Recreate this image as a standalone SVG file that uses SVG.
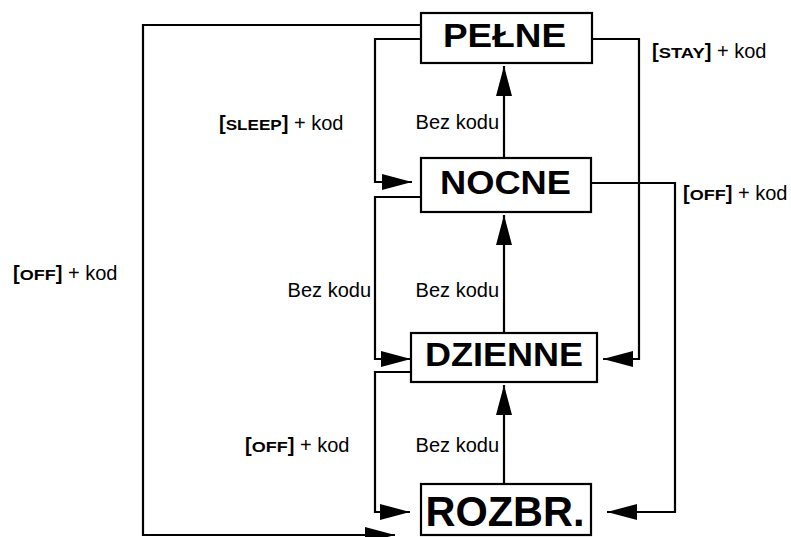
<svg xmlns="http://www.w3.org/2000/svg" width="791" height="537" viewBox="0 0 791 537">
<style>
.box{fill:#fff;stroke:#000;stroke-width:2.2}
.st{font-family:"Liberation Sans",Arial,sans-serif;font-weight:bold;fill:#000;text-anchor:middle}
.lbl{font-family:"Liberation Sans",Arial,sans-serif;font-size:20px;fill:#000}
.b{font-weight:bold}
.sc{font-weight:bold;font-size:15px}
.c{fill:none;stroke:#000;stroke-width:2.2;marker-end:url(#ah)}
</style>
<defs>
<marker id="ah" markerUnits="userSpaceOnUse" markerWidth="30" markerHeight="16" viewBox="0 0 30 16" refX="30" refY="8" orient="auto" overflow="visible">
<path d="M0,0 L30,8 L0,16 Z" fill="#000"/>
</marker>
</defs>
<g id="connectors">
<path class="c" d="M421,25 H143 V535 H395"/>
<path class="c" d="M421,39 H375 V182 H412"/>
<path class="c" d="M421,197 H375 V359 H411"/>
<path class="c" d="M420,372 H375 V512 H410"/>
<path class="c" d="M592,39 H639 V359 H603"/>
<path class="c" d="M591,183 H675 V512 H607"/>
<path class="c" d="M504,158 V66"/>
<path class="c" d="M504,333 V215"/>
<path class="c" d="M504,484 V385"/>
</g>
<g id="pelne">
<rect class="box" x="421" y="13" width="171" height="50"/>
<text class="st" x="504.5" y="47" font-size="34" textLength="123" lengthAdjust="spacingAndGlyphs">PEŁNE</text>
</g>
<g id="nocne">
<rect class="box" x="421" y="158" width="170" height="54"/>
<text class="st" x="505.5" y="194" font-size="34" textLength="131" lengthAdjust="spacingAndGlyphs">NOCNE</text>
</g>
<g id="dzienne">
<rect class="box" x="411" y="333" width="186" height="49"/>
<text class="st" x="504" y="366" font-size="34" textLength="158" lengthAdjust="spacingAndGlyphs">DZIENNE</text>
</g>
<g id="rozbr">
<rect class="box" x="421" y="484" width="170" height="51"/>
<text class="st" x="505" y="526" font-size="43" textLength="159" lengthAdjust="spacingAndGlyphs">ROZBR.</text>
</g>
<g id="labels">
<text class="lbl" x="219" y="130"><tspan class="b">[</tspan><tspan class="sc" textLength="56" lengthAdjust="spacingAndGlyphs">SLEEP</tspan><tspan class="b">]</tspan> + kod</text>
<text class="lbl" x="499" y="129" text-anchor="end">Bez kodu</text>
<text class="lbl" x="652" y="58"><tspan class="b">[</tspan><tspan class="sc" textLength="46" lengthAdjust="spacingAndGlyphs">STAY</tspan><tspan class="b">]</tspan> + kod</text>
<text class="lbl" x="683" y="200"><tspan class="b">[</tspan><tspan class="sc" textLength="36" lengthAdjust="spacingAndGlyphs">OFF</tspan><tspan class="b">]</tspan> + kod</text>
<text class="lbl" x="13" y="280"><tspan class="b">[</tspan><tspan class="sc" textLength="36" lengthAdjust="spacingAndGlyphs">OFF</tspan><tspan class="b">]</tspan> + kod</text>
<text class="lbl" x="371" y="297" text-anchor="end">Bez kodu</text>
<text class="lbl" x="499" y="297" text-anchor="end">Bez kodu</text>
<text class="lbl" x="245" y="452"><tspan class="b">[</tspan><tspan class="sc" textLength="36" lengthAdjust="spacingAndGlyphs">OFF</tspan><tspan class="b">]</tspan> + kod</text>
<text class="lbl" x="499" y="452" text-anchor="end">Bez kodu</text>
</g>
</svg>
